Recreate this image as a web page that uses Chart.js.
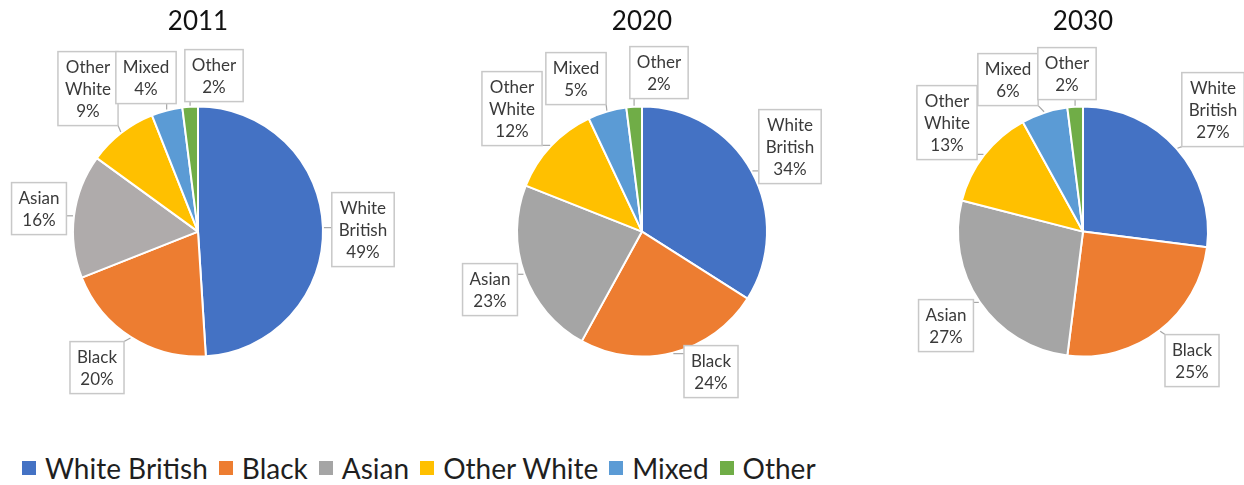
<!DOCTYPE html>
<html>
<head>
<meta charset="utf-8">
<script src="https://cdn.jsdelivr.net/npm/chart.js@4"></script>
<style>
  body { margin: 0; background: #fff; width: 1244px; height: 485px; overflow: hidden; position: relative; font-family: Lato, sans-serif; }
  .pie { position: absolute; top: 0; }
  #legend { position: absolute; left: 22px; top: 451px; display: flex; align-items: center; font-size: 28px; color: #1f1f1f; white-space: nowrap; }
  #legend .item { display: flex; align-items: center; margin-right: 11px; }
  #legend .sw { width: 14px; height: 14px; margin-right: 9px; }
</style>
</head>
<body>
<div class="pie" style="left:-2px"><canvas id="pie2011" width="400" height="426"></canvas></div>
<div class="pie" style="left:442px"><canvas id="pie2020" width="400" height="426"></canvas></div>
<div class="pie" style="left:883px"><canvas id="pie2030" width="400" height="426"></canvas></div>
<div id="legend"></div>
<script>
const categories = ["White British", "Black", "Asian", "Other White", "Mixed", "Other"];
const years = ["2011", "2020", "2030"];
const share2011 = [49, 20, 16, 9, 4, 2];
const share2020 = [34, 24, 23, 12, 5, 2];
const share2030 = [27, 25, 27, 13, 6, 2];

const colors = ["#4472C4", "#ED7D31", "#A5A5A5", "#FFC000", "#5B9BD5", "#70AD47"];
// the 2011 chart uses a slightly warmer grey for Asian
const colors2011 = ["#4472C4", "#ED7D31", "#AFABAB", "#FFC000", "#5B9BD5", "#70AD47"];

// where each callout box sits, relative to the pie centre
const calloutOffsets = {
  "2011": [[165, -2], [-101, 136], [-159, -23], [-110, -143], [-52, -154], [16, -156]],
  "2020": [[148, -85], [69, 140], [-152, 58], [-130, -123], [-66, -153], [17, -159]],
  "2030": [[130, -122], [109, 129], [-137, 94], [-136, -109], [-75, -152], [-16, -158]],
};

const callouts = {
  id: "callouts",
  afterDatasetsDraw(chart) {
    const ctx = chart.ctx;
    const meta = chart.getDatasetMeta(0);
    const values = chart.data.datasets[0].data;
    const offsets = calloutOffsets[chart.options.plugins.title.text];
    ctx.save();
    ctx.font = "17px Lato";
    ctx.textAlign = "center";
    ctx.textBaseline = "middle";
    meta.data.forEach((arc, i) => {
      const p = arc.getProps(["x", "y", "startAngle", "endAngle", "outerRadius"], true);
      const mid = (p.startAngle + p.endAngle) / 2;
      const ax = p.x + Math.cos(mid) * (p.outerRadius + 1);
      const ay = p.y + Math.sin(mid) * (p.outerRadius + 1);
      const lines = chart.data.labels[i].split(" ");
      lines.push(values[i] + "%");
      const lh = 22;
      const w = Math.max(...lines.map((t) => ctx.measureText(t).width)) + 14;
      const h = lines.length * lh + 8;
      const bx = p.x + offsets[i][0] - w / 2;
      const by = p.y + offsets[i][1] - h / 2;

      // leader line to the nearest point of the box
      const nx = Math.min(Math.max(ax, bx), bx + w);
      const ny = Math.min(Math.max(ay, by), by + h);
      if (Math.hypot(ax - nx, ay - ny) > 2) {
        ctx.strokeStyle = "#A6A6A6";
        ctx.lineWidth = 1.2;
        ctx.beginPath();
        ctx.moveTo(nx, ny);
        ctx.lineTo(ax, ay);
        ctx.stroke();
      }

      ctx.fillStyle = "#fff";
      ctx.fillRect(bx, by, w, h);
      ctx.strokeStyle = "#C8C8C8";
      ctx.lineWidth = 1.5;
      ctx.strokeRect(bx, by, w, h);
      ctx.fillStyle = "#3a3a3a";
      lines.forEach((t, k) => {
        ctx.fillText(t, bx + w / 2, by + 4 + lh * k + lh / 2 + 1);
      });
    });
    ctx.restore();
  },
};

function makePie(id, year, values, palette) {
  new Chart(document.getElementById(id), {
    type: "pie",
    data: {
      labels: categories,
      datasets: [
        {
          data: values,
          backgroundColor: palette,
          borderColor: "#fff",
          borderWidth: 2,
          radius: 125,
        },
      ],
    },
    options: {
      responsive: false,
      animation: false,
      layout: { padding: 0 },
      plugins: {
        legend: { display: false },
        tooltip: { enabled: false },
        title: {
          display: true,
          text: year,
          color: "#111",
          font: { family: "Lato", size: 26, weight: "normal" },
          padding: { top: 6, bottom: 0 },
        },
      },
    },
    plugins: [callouts],
  });
}

makePie("pie2011", years[0], share2011, colors2011);
makePie("pie2020", years[1], share2020, colors);
makePie("pie2030", years[2], share2030, colors);

const legend = document.getElementById("legend");
categories.forEach((c, i) => {
  const item = document.createElement("span");
  item.className = "item";
  item.innerHTML = '<span class="sw" style="background:' + colors[i] + '"></span>' + c;
  legend.appendChild(item);
});
</script>
</body>
</html>
